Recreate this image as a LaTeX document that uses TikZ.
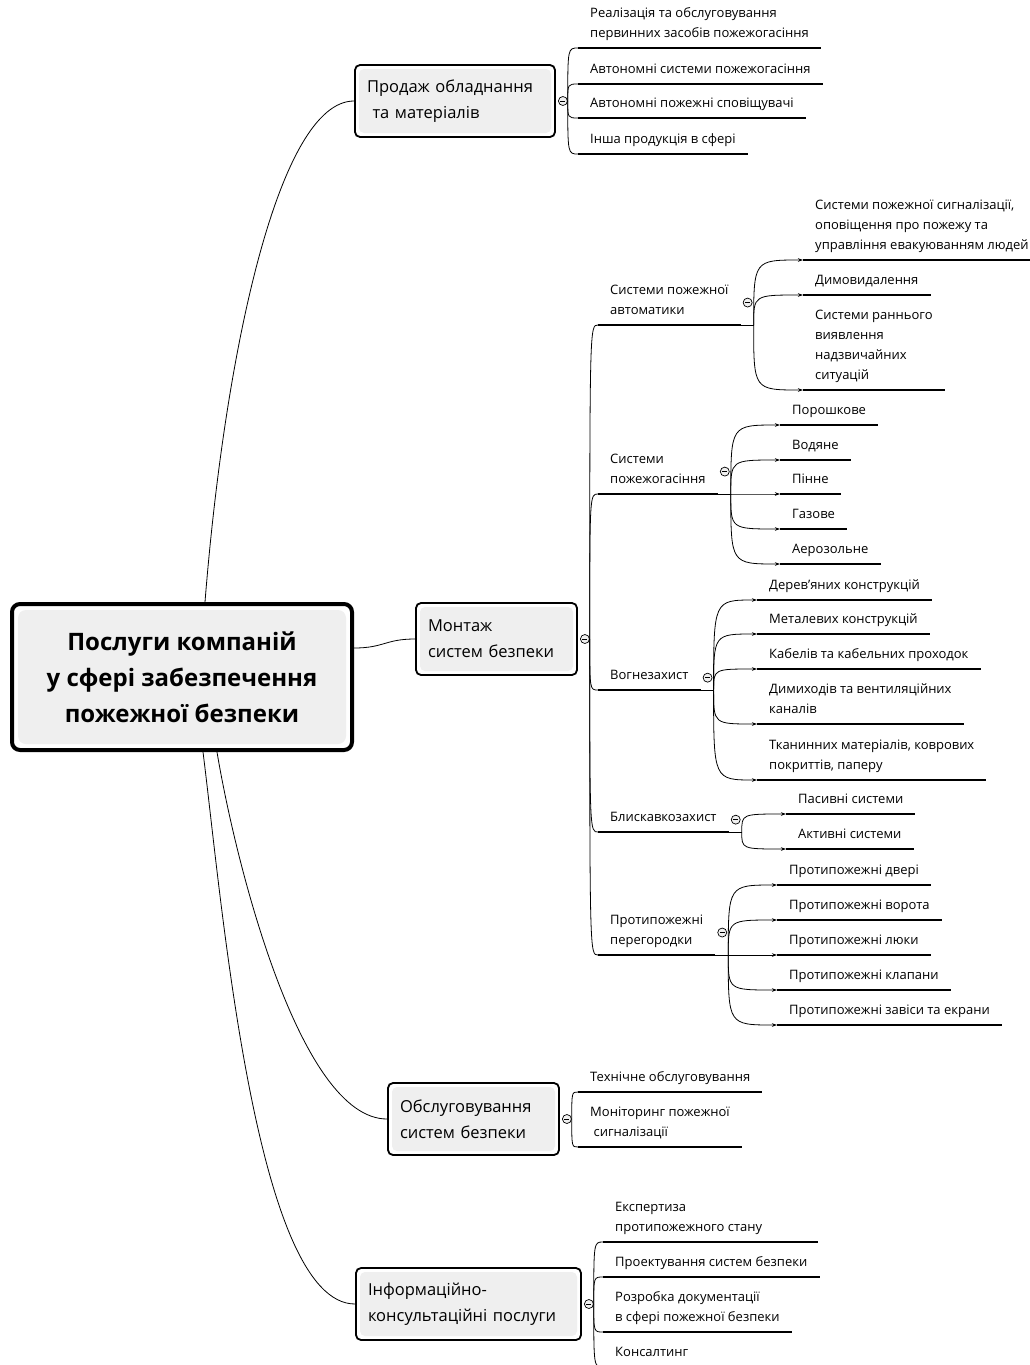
\documentclass[tikz,border=0pt]{standalone}
\usepackage{fontspec}
\setmainfont{Open Sans}
\usetikzlibrary{arrows.meta,calc}
\definecolor{boxfill}{HTML}{EFEFEF}

\begin{document}
\begin{tikzpicture}[
    x=1pt, y=-1pt,
    font=\fontsize{13}{20}\selectfont,
    inset/.style={
        path picture={\fill[boxfill] ([shift={(#1,#1)}]path picture bounding box.south west) rectangle ([shift={(-#1,-#1)}]path picture bounding box.north east);}
    },
    root/.style={
        draw,
        line width=4pt,
        rounded corners=8pt,
        fill=white,
        inset=6pt,
        minimum width=340pt,
        minimum height=146pt,
        align=center,
        font=\fontsize{24}{36}\selectfont\bfseries
    },
    topic/.style={
        draw,
        line width=1.8pt,
        rounded corners=5pt,
        fill=white,
        inset=4pt,
        minimum height=72pt,
        inner xsep=12pt,
        align=left,
        font=\fontsize{16.5}{26}\selectfont
    },
    leaf/.style={
        anchor=south west,
        inner xsep=12pt,
        inner ysep=5pt,
        text depth=5pt,
        align=left
    },
    uline/.style={line width=2.6pt},
    link/.style={line width=0.8pt},
    arrow/.style={link, -{Stealth[length=5pt,width=3.5pt]}},
    fold/.style={
        circle, draw, line width=0.7pt, fill=gray!12,
        minimum size=9pt, inner sep=0pt,
        path picture={\draw[line width=0.7pt] ([xshift=-2.5pt]path picture bounding box.center) -- ([xshift=2.5pt]path picture bounding box.center);}
    }
]
\clip (0,0) rectangle (1030,1365);

% main topic
\node[root] (root) at (182,677) {Послуги компаній\\у сфері забезпечення\\пожежної безпеки};

% first level
\node[topic, text width=176pt] (sale) at (455,101) {Продаж обладнання\\\ та матеріалів};
\node[topic, text width=137pt] (mount) at (496.5,639) {Монтаж\\систем безпеки};
\node[topic, text width=147pt] (serv) at (473.5,1119) {Обслуговування\\систем безпеки};
\node[topic, text width=201pt] (info) at (468.5,1304) {Інформаційно-\\консультаційні послуги};

\draw[link] ([xshift=23pt]root.north) .. controls +(20,-252) and +(-75,0) .. (sale.west);
\draw[link] ([yshift=29pt]root.east) .. controls +(30,0) and +(-30,0) .. (mount.west);
\draw[link] ([xshift=35pt]root.south) .. controls +(18,108) and +(-88,0) .. (serv.west);
\draw[link] ([xshift=21pt]root.south) .. controls +(19,150) and +(-100,0) .. (info.west);

% sale
\node[leaf] (s1) at (578,48) {Реалізація та обслуговування\\первинних засобів пожежогасіння};
\node[leaf] (s2) at (578,84) {Автономні системи пожежогасіння};
\node[leaf] (s3) at (578,118) {Автономні пожежні сповіщувачі};
\node[leaf] (s4) at (578,154) {Інша продукція в сфері};

% mount
\node[leaf] (auto) at (598,325) {Системи пожежної\\автоматики};
\node[leaf] (ext) at (598,494) {Системи\\пожежогасіння};
\node[leaf] (fire) at (598,690) {Вогнезахист};
\node[leaf] (light) at (598,832) {Блискавкозахист};
\node[leaf] (part) at (598,955) {Протипожежні\\перегородки};

\node[leaf] (a1) at (803,260) {Системи пожежної сигналізації,\\оповіщення про пожежу та\\управління евакуюванням людей};
\node[leaf] (a2) at (803,295) {Димовидалення};
\node[leaf] (a3) at (803,390) {Системи раннього\\виявлення\\надзвичайних\\ситуацій};

\node[leaf] (e1) at (780,425) {Порошкове};
\node[leaf] (e2) at (780,460) {Водяне};
\node[leaf] (e3) at (780,494) {Пінне};
\node[leaf] (e4) at (780,529) {Газове};
\node[leaf] (e5) at (780,564) {Аерозольне};

\node[leaf] (f1) at (757,600) {Дерев{\char"27}яних конструкцій};
\node[leaf] (f2) at (757,634) {Металевих конструкцій};
\node[leaf] (f3) at (757,669) {Кабелів та кабельних проходок};
\node[leaf] (f4) at (757,724) {Димиходів та вентиляційних\\каналів};
\node[leaf] (f5) at (757,780) {Тканинних матеріалів, коврових\\покриттів, паперу};

\node[leaf] (l1) at (786,814) {Пасивні системи};
\node[leaf] (l2) at (786,849) {Активні системи};

\node[leaf] (p1) at (777,885) {Протипожежні двері};
\node[leaf] (p2) at (777,920) {Протипожежні ворота};
\node[leaf] (p3) at (777,955) {Протипожежні люки};
\node[leaf] (p4) at (777,990) {Протипожежні клапани};
\node[leaf] (p5) at (777,1025) {Протипожежні завіси та екрани};

% service
\node[leaf] (v1) at (578,1092) {Технічне обслуговування};
\node[leaf] (v2) at (578,1147) {Моніторинг пожежної\\\ сигналізації};

% info
\node[leaf] (i1) at (603,1242) {Експертиза\\протипожежного стану};
\node[leaf] (i2) at (603,1277) {Проектування систем безпеки};
\node[leaf] (i3) at (603,1332) {Розробка документації\\в сфері пожежної безпеки};
\node[leaf] (i4) at (603,1367) {Консалтинг};

\foreach \n in {s1,s2,s3,s4,auto,ext,fire,light,part,a1,a2,a3,e1,e2,e3,e4,e5,f1,f2,f3,f4,f5,l1,l2,p1,p2,p3,p4,p5,v1,v2,i2,i3,i4}
    \draw[uline] (\n.south west) -- (\n.south east);
\draw[uline] (i1.south west) -- ++(215,0);

% fold marks
\foreach \t in {sale,mount,serv,info}
    \node[fold] (c-\t) at ([xshift=7pt]\t.east) {};
\foreach \t in {auto,ext,fire,light,part} {
    \coordinate (b-\t) at ([xshift=13pt]\t.south east);
    \node[fold] (c-\t) at ([xshift=7pt]\t.east) {};
    \draw[link] (\t.south east) -- (b-\t);
}

% connectors
\foreach \t/\kids in {sale/{s1,s2,s3,s4}, mount/{auto,ext,fire,light,part}, serv/{v1,v2}, info/{i1,i2,i3,i4}}
    \foreach \k in \kids
        \draw[link] (c-\t.east) .. controls (c-\t.east |- \k.south west) .. (\k.south west);
\foreach \t/\kids in {auto/{a1,a2,a3}, ext/{e1,e2,e3,e4,e5}, fire/{f1,f2,f3,f4,f5}, light/{l1,l2}, part/{p1,p2,p3,p4,p5}}
    \foreach \k in \kids
        \draw[arrow] (b-\t) .. controls (b-\t |- \k.south west) .. (\k.south west);

\end{tikzpicture}
\end{document}
